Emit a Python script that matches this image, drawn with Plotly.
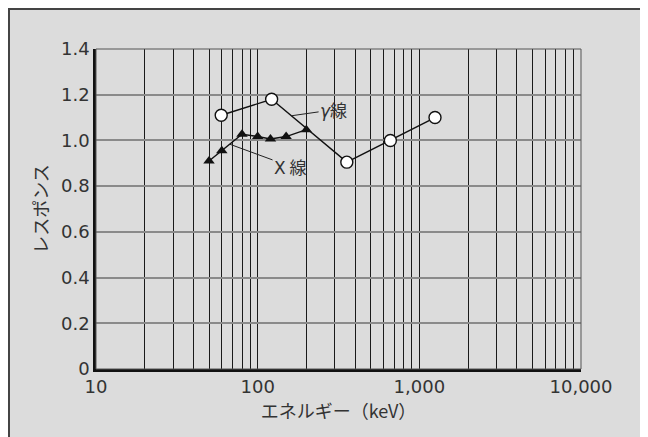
import plotly.graph_objects as go

# Data
gamma_energy = [59.5, 122, 356, 662, 1250]
gamma_response = [1.11, 1.18, 0.905, 1.0, 1.10]

xray_energy = [50, 60, 80, 100, 120, 150, 200]
xray_response = [0.91, 0.955, 1.027, 1.017, 1.006, 1.017, 1.047]

decades = [10, 100, 1000]
multipliers = [1, 2, 3, 4, 5, 6, 7, 8, 9]
x_major = [10, 100, 1000, 10000]
x_major_text = ["10", "100", "1,000", "10,000"]

y_ticks = [0, 0.2, 0.4, 0.6, 0.8, 1.0, 1.2, 1.4]
y_tick_text = ["0", "0.2", "0.4", "0.6", "0.8", "1.0", "1.2", "1.4"]
tolerance_lines = [0.75, 1.25]

FONT = "DejaVu Sans, Noto Sans CJK JP"
JFONT = "Noto Sans CJK JP"
TXT = "#333333"

x_tickvals = []
x_ticktext = []
for d in decades:
    for m in multipliers:
        v = d * m
        x_tickvals.append(v)
        x_ticktext.append(x_major_text[x_major.index(v)] if v in x_major else "")
x_tickvals.append(10000)
x_ticktext.append("10,000")

fig = go.Figure()

fig.add_trace(go.Scatter(
    x=gamma_energy, y=gamma_response, mode="lines+markers",
    line=dict(color="#111111", width=1.4),
    marker=dict(symbol="circle", size=12, color="white",
                line=dict(color="#111111", width=1.4)),
    showlegend=False,
))
fig.add_trace(go.Scatter(
    x=xray_energy, y=xray_response, mode="lines+markers",
    line=dict(color="#111111", width=1.4),
    marker=dict(symbol="triangle-up", size=10, color="#111111"),
    showlegend=False,
))

# tolerance lines
for t in tolerance_lines:
    fig.add_shape(type="line", xref="paper", x0=0, x1=1, yref="y", y0=t, y1=t,
                  line=dict(color="#8a8a8a", width=1.5), layer="below")

# outer frame
fig.add_shape(type="rect", xref="paper", yref="paper",
              x0=-0.1794, x1=1.1258, y0=-0.25, y1=1.125,
              fillcolor="#dcdcdc", line=dict(color="#444444", width=2),
              layer="below")

# plot frame (top/right)
fig.add_shape(type="rect", xref="paper", yref="paper", x0=0, x1=1, y0=0, y1=1,
              line=dict(color="#555555", width=1), layer="above")

fig.add_annotation(x=2.21, y=1.108, xref="x", yref="y",
                   text="<span style='font-family:DejaVu Sans'><i>γ</i></span>線",
                   showarrow=True, arrowhead=0, arrowwidth=1, arrowcolor="#222222",
                   ax=42, ay=-6, font=dict(family=JFONT, size=17, color=TXT))
fig.add_annotation(x=1.829, y=0.983, xref="x", yref="y",
                   text="<span style='font-family:DejaVu Sans'>X</span> 線",
                   showarrow=True, arrowhead=0, arrowwidth=1, arrowcolor="#222222",
                   ax=60, ay=22, font=dict(family=JFONT, size=17, color=TXT))

fig.update_xaxes(
    type="log", range=[1, 4],
    tickvals=x_tickvals, ticktext=x_ticktext,
    showgrid=True, gridcolor="#1a1a1a", gridwidth=1,
    showline=True, linecolor="#111111", linewidth=2.5,
    ticks="", zeroline=False,
    tickfont=dict(family=FONT, size=18, color=TXT),
    title=dict(text="エネルギー（keV）", font=dict(family=JFONT, size=18, color=TXT),
               standoff=4),
)
fig.update_yaxes(
    range=[0, 1.4],
    tickvals=y_ticks, ticktext=y_tick_text,
    showgrid=True, gridcolor="#8a8a8a", gridwidth=1.5,
    showline=True, linecolor="#111111", linewidth=2.5,
    ticks="", zeroline=False,
    tickfont=dict(family=FONT, size=18, color=TXT),
    title=dict(text="レスポンス", font=dict(family=JFONT, size=18, color=TXT),
               standoff=8),
)

fig.update_layout(
    width=640, height=429,
    margin=dict(l=88, r=67, t=41, b=68, autoexpand=False),
    paper_bgcolor="white", plot_bgcolor="white",
    font=dict(family=FONT),
)

fig.write_html("out.html")
